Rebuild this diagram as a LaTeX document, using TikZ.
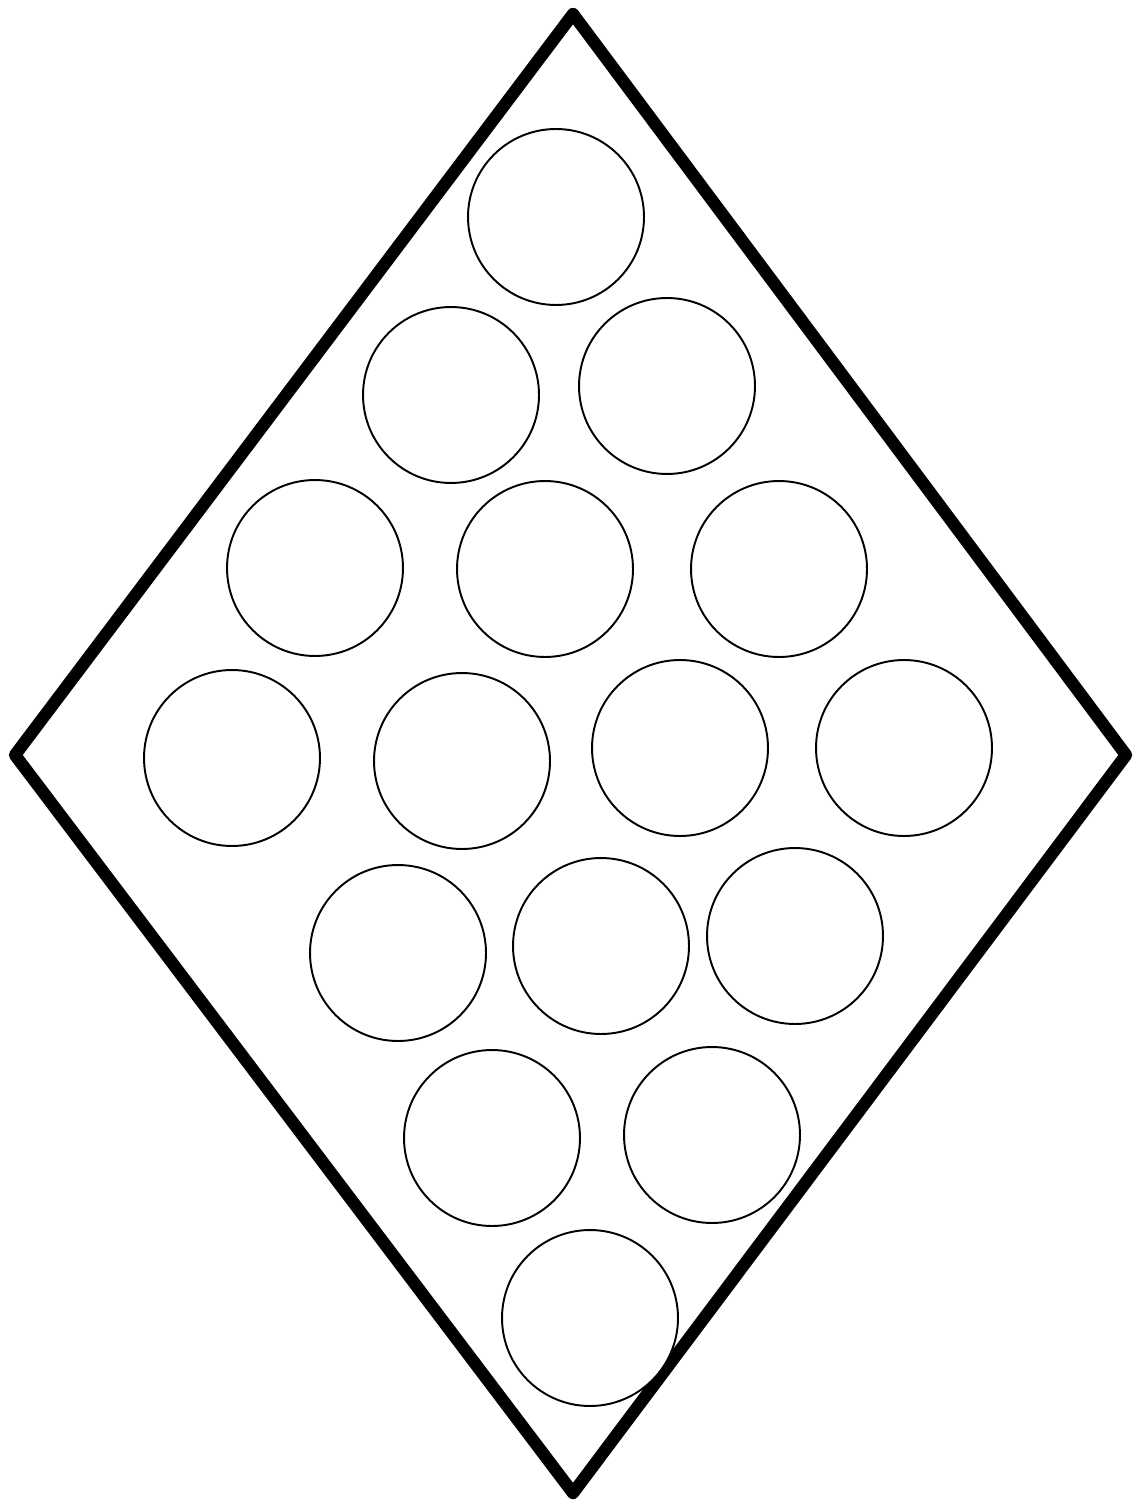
\documentclass[tikz,border=0pt]{standalone}
\usepackage{tikz}

\begin{document}
\begin{tikzpicture}[
        x=0.02cm, y=-0.02cm,
        rim/.style={draw, line width=7pt, line join=round},
        ball/.style={draw, circle, fill=white, line width=1.1pt,
                     minimum size=3.52cm, inner sep=0pt}
    ]
        \useasboundingbox (0,0) rectangle (1135,1506);
        \coordinate (top)    at (573,  14);
        \coordinate (left)   at ( 15, 755);
        \coordinate (right)  at (1126,755);
        \coordinate (bottom) at (573,1493);
        \draw[rim] (top)--(right)--(bottom)--(left)--cycle;
        \foreach \n/\x/\y in {1/556/217, 2/451/395, 3/667/386,
                              4/315/568, 5/545/569, 6/779/569,
                              7/232/758, 8/462/761, 9/680/748, 10/904/748,
                              11/398/953, 12/601/946, 13/795/936,
                              14/492/1138, 15/712/1135, 16/590/1318}
            \node[ball] (b\n) at (\x,\y) {};
    \end{tikzpicture}
\end{document}
